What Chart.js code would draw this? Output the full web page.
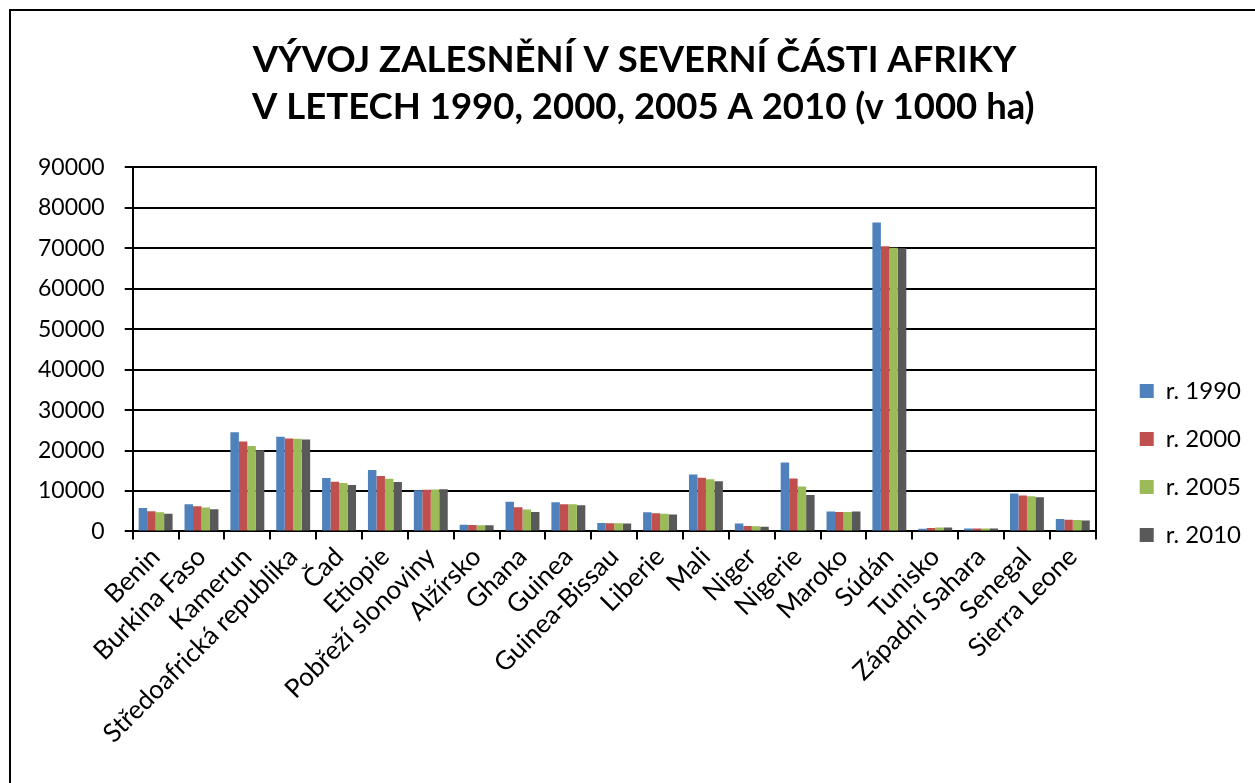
<!DOCTYPE html>
<html>
<head>
<meta charset="utf-8">
<script src="https://cdn.jsdelivr.net/npm/chart.js@4.4.1/dist/chart.umd.min.js"></script>
<style>
  html, body { margin: 0; padding: 0; background: #fff; overflow: hidden; }
  #wrap { position: relative; width: 1255px; height: 783px; }
  #frame { position: absolute; left: 9px; top: 9px; width: 1400px; height: 900px; border: 2px solid #000; box-sizing: border-box; }
  canvas { position: absolute; left: 0; top: 0; }
</style>
</head>
<body>
<div id="wrap">
  <div id="frame"></div>
  <canvas id="myChart" width="1255" height="783"></canvas>
</div>
<script>
var countries = ["Benin", "Burkina Faso", "Kamerun", "Středoafrická republika", "Čad", "Etiopie",
  "Pobřeží slonoviny", "Alžírsko", "Ghana", "Guinea", "Guinea-Bissau", "Liberie", "Mali", "Niger",
  "Nigerie", "Maroko", "Súdán", "Tunisko", "Západní Sahara", "Senegal", "Sierra Leone"];

var y1990 = [5800, 6750, 24500, 23400, 13200, 15200, 10200, 1650, 7350, 7200, 2100, 4750, 14100, 1950, 17050, 4900, 76400, 650, 700, 9350, 3050];
var y2000 = [5000, 6250, 22250, 23000, 12300, 13700, 10300, 1600, 6000, 6750, 2050, 4500, 13300, 1350, 13100, 4800, 70500, 850, 700, 8900, 2900];
var y2005 = [4750, 5900, 21150, 22900, 11950, 13000, 10350, 1550, 5450, 6700, 2000, 4350, 12900, 1300, 11100, 4800, 70150, 950, 700, 8700, 2800];
var y2010 = [4400, 5500, 20100, 22750, 11500, 12250, 10400, 1500, 4800, 6450, 1950, 4200, 12400, 1150, 9000, 4900, 70000, 1000, 700, 8450, 2700];

var yTicks = [0, 10000, 20000, 30000, 40000, 50000, 60000, 70000, 80000, 90000];

var seriesNames = ["r. 1990", "r. 2000", "r. 2005", "r. 2010"];
var seriesColors = ["#4F81BD", "#C0504D", "#9BBB59", "#595959"];

var ctx = document.getElementById('myChart').getContext("2d");

const data = {
    labels: countries,
    datasets: [y1990, y2000, y2005, y2010].map(function (vals, i) {
        return {
            label: seriesNames[i],
            data: vals,
            backgroundColor: seriesColors[i],
            borderWidth: 0,
            categoryPercentage: 0.74,
            barPercentage: 1.0
        };
    })
};

var myChart = new Chart(ctx, {
    type: "bar",
    data: data,
    options: {
        responsive: false,
        animation: false,
        layout: { padding: { left: 18, right: 4, top: 0, bottom: 32 } },
        plugins: {
            title: {
                display: true,
                text: ["VÝVOJ ZALESNĚNÍ V SEVERNÍ ČÁSTI AFRIKY", "  V LETECH 1990, 2000, 2005 A 2010 (v 1000 ha)"],
                color: '#000',
                font: { family: 'Lato', size: 36.5, weight: 'bold', lineHeight: 1.28 },
                padding: { top: 37, bottom: 37 }
            },
            legend: {
                display: true,
                position: 'right',
                align: 'start',
                title: {
                    display: true,
                    text: ' ',
                    font: { size: 10, lineHeight: 1 },
                    padding: { top: 345, bottom: 0 }
                },
                labels: {
                    color: '#000',
                    font: { family: 'Lato', size: 24 },
                    boxWidth: 14,
                    boxHeight: 14,
                    padding: 24
                }
            },
            tooltip: { enabled: false }
        },
        scales: {
            x: {
                grid: {
                    offset: true,
                    drawOnChartArea: false,
                    color: '#000',
                    tickColor: '#000',
                    tickLength: 8,
                    lineWidth: 2
                },
                border: { color: '#000', width: 2 },
                ticks: {
                    color: '#000',
                    font: { family: 'Lato', size: 26 },
                    minRotation: 45,
                    maxRotation: 45,
                    autoSkip: false,
                    padding: 2
                }
            },
            y: {
                min: 0,
                max: 90000,
                afterBuildTicks: function (axis) { axis.ticks = yTicks.map(function (v) { return { value: v }; }); },
                grid: { color: '#000', lineWidth: 2, tickLength: 8 },
                border: { color: '#000', width: 2 },
                ticks: {
                    color: '#000',
                    font: { family: 'Lato', size: 23 },
                    padding: 20,
                    callback: function (v) { return String(v); }
                }
            },
            yRight: {
                position: 'right',
                min: 0,
                max: 90000,
                grid: { display: false, drawTicks: false },
                border: { color: '#000', width: 2 },
                ticks: { display: false },
                afterFit: function (axis) { axis.width = 20; }
            }
        }
    }
});
</script>
</body>
</html>
